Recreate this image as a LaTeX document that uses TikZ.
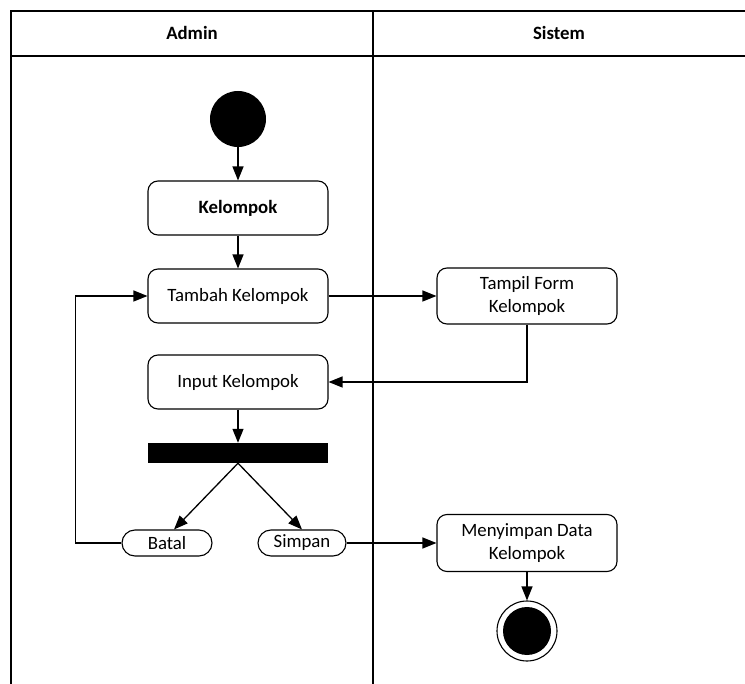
\documentclass[tikz,border=0pt]{standalone}
\usepackage{fontspec}
\setmainfont{Carlito}
\usetikzlibrary{positioning,arrows.meta,calc}
\tikzset{
    act/.style={draw, rounded corners=10pt, minimum width=180pt, minimum height=54pt, align=center, line width=1.1pt},
    pill/.style={draw, rounded corners=13pt, minimum height=26pt, inner sep=0pt, line width=1.1pt},
    flow/.style={-{Triangle[length=14pt,width=11pt]}, line width=1.3pt},
    lane/.style={line width=1.3pt}
}
\begin{document}
\begin{tikzpicture}[x=1pt, y=-1pt, font=\fontsize{18.8}{23}\selectfont]
    \useasboundingbox (0,0) rectangle (745,684);
    % swimlanes
    \draw[lane] (745,11) -- (11,11) -- (11,684);
    \draw[lane] (11,56) -- (745,56);
    \draw[lane] (373,11) -- (373,684);
    \node[font=\fontsize{18.8}{23}\selectfont\bfseries] (admin) at (192,33) {Admin};
    \node[font=\fontsize{18.8}{23}\selectfont\bfseries] (sistem) at (559,33) {Sistem};

    \node[circle, fill=black, minimum size=56pt, inner sep=0pt] (start) at (238,119) {};
    \node[act, font=\fontsize{18.8}{23}\selectfont\bfseries] (kel) at (238,208) {Kelompok};
    \node[act] (tambah) at (238,296) {Tambah Kelompok};
    \node[act, minimum height=56pt] (tampil) at (527,296) {Tampil Form\\Kelompok};
    \node[act] (input) at (238,382) {Input Kelompok};
    \node[fill=black, minimum width=180pt, minimum height=20pt, inner sep=0pt] (bar) at (238,453) {};
    \node[pill, minimum width=90pt] (batal) at (167,543) {Batal};
    \node[pill, minimum width=88pt] (simpan) at (302,543) {Simpan};
    \node[act, minimum height=57pt] (simpanData) at (527,543) {Menyimpan Data\\Kelompok};
    \node[circle, draw, line width=1.1pt, minimum size=60pt, inner sep=0pt] (end) at (527,631) {};
    \node[circle, fill=black, minimum size=48pt, inner sep=0pt] (endIn) at (end) {};

    \draw[flow] (start) -- (kel);
    \draw[flow] (kel) -- (tambah);
    \draw[flow] (tambah) -- (tampil);
    \draw[flow] (tampil.south) |- (input.east);
    \draw[flow] (input) -- (bar);
    \draw[flow] (bar.south) -- ($(batal.north)+(7,0)$);
    \draw[flow] (bar.south) -- (simpan.north);
    \draw[flow] (batal.west) -- ++(-46,0) |- (tambah.west);
    \draw[flow] (simpan) -- (simpanData);
    \draw[flow] (simpanData) -- (end);
\end{tikzpicture}
\end{document}
